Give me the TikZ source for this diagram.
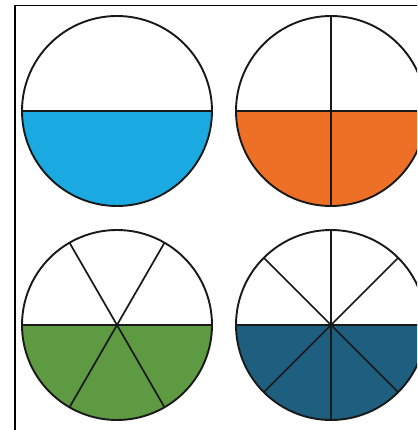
\documentclass[tikz,border=0pt]{standalone}
\usetikzlibrary{calc}

\definecolor{halfcyan}{HTML}{1AA9E0}
\definecolor{halforange}{HTML}{EE7026}
\definecolor{halfgreen}{HTML}{5E9A41}
\definecolor{halfnavy}{HTML}{1E5F80}

\begin{document}
\begin{tikzpicture}[
  x=1pt, y=-1pt,
  rim/.style={draw=black!90, line width=1.9pt},
  spoke/.style={draw=black!90, line width=1.7pt},
  frame/.style={draw=black, line width=1.8pt}
]
\useasboundingbox (0,0) rectangle (417,430);
\clip (0,0) rectangle (417,430);

% outer frame, only left and top edges are visible
\draw[frame] (15,431) -- (15,5.5) -- (418,5.5);

% four circles, lower half filled, split into n equal parts
\foreach \cx/\cy/\col/\n in {117/111/halfcyan/2, 331/111/halforange/4,
                            117/325/halfgreen/6, 331/325/halfnavy/8} {
  \coordinate (ctr) at (\cx,\cy);
  \fill[\col] (ctr) ++(0:95) arc[start angle=0, end angle=180, radius=95] -- cycle;
  \foreach \k in {1,...,\n} {
    \draw[spoke] (ctr) -- ++({360*\k/\n}:95);
  }
  \draw[rim] (ctr) circle (95);
}

\end{tikzpicture}
\end{document}
